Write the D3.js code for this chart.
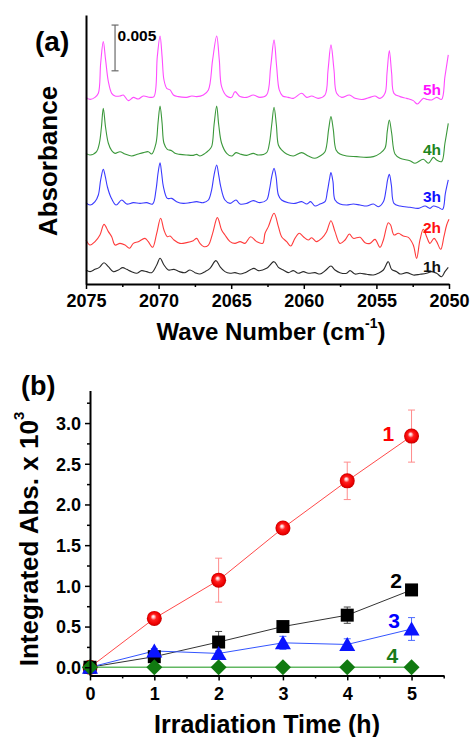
<!DOCTYPE html>
<html>
<head>
<meta charset="utf-8">
<script src="https://cdn.jsdelivr.net/npm/d3@7"></script>
<style>
  html, body { margin: 0; padding: 0; background: #ffffff; }
  svg text { font-family: "Liberation Sans", Arial, Helvetica, sans-serif; font-weight: bold; }
</style>
</head>
<body>
<svg id="chart" width="471" height="737"></svg>
<script>
// ---------- Panel (a): IR spectra, [wavenumber (cm-1), absorbance x 10^-3] ----------
const spectrum1h = [[2075.00,0.00],[2074.72,-0.18],[2074.38,0.07],[2074.08,0.29],[2073.76,0.80],[2073.46,0.36],[2073.12,-0.18],[2072.77,0.00],[2072.47,0.26],[2072.20,0.07],[2071.86,-0.18],[2071.51,-0.36],[2071.17,-0.07],[2070.82,-0.18],[2070.48,-0.29],[2070.13,0.55],[2069.90,1.28],[2069.63,0.55],[2069.33,0.00],[2068.94,0.07],[2068.57,-0.18],[2068.18,-0.29],[2067.84,0.00],[2067.49,-0.29],[2067.15,-0.44],[2066.80,-0.18],[2066.46,0.18],[2066.05,1.02],[2065.77,0.36],[2065.43,-0.18],[2065.08,-0.36],[2064.74,-0.29],[2064.39,-0.44],[2064.05,-0.29],[2063.71,0.00],[2063.43,0.18],[2063.13,-0.07],[2062.56,0.18],[2062.05,0.91],[2061.75,0.29],[2061.41,0.00],[2061.07,-0.29],[2060.72,-0.07],[2060.38,-0.36],[2060.03,-0.18],[2059.69,-0.36],[2059.23,-0.29],[2058.88,-0.44],[2058.47,0.00],[2058.13,0.44],[2057.85,0.00],[2057.51,-0.29],[2057.05,-0.36],[2056.82,-0.07],[2056.47,-0.44],[2056.13,-0.36],[2055.67,-0.47],[2055.21,-0.55],[2054.87,-0.36],[2054.52,0.00],[2054.18,0.91],[2053.95,0.07],[2053.60,-0.18],[2053.37,-0.44],[2052.91,-0.29],[2052.46,-0.55],[2052.00,-0.47],[2051.54,-0.36],[2051.19,-0.18],[2050.85,-0.36],[2050.51,-0.73],[2050.28,-0.18],[2050.05,0.29]];

const spectrum2h = [[2075.00,0.33],[2074.72,-0.22],[2074.38,0.15],[2074.04,0.88],[2073.76,2.04],[2073.46,1.24],[2073.23,0.69],[2073.00,-0.22],[2072.66,-0.04],[2072.31,-0.22],[2072.01,-0.58],[2071.74,-0.04],[2071.40,0.15],[2070.94,0.51],[2070.71,0.15],[2070.41,-0.47],[2070.13,1.06],[2069.86,2.70],[2069.63,1.42],[2069.40,0.69],[2069.21,0.77],[2068.94,0.33],[2068.53,-0.04],[2068.07,0.04],[2067.61,0.26],[2067.38,0.51],[2067.15,-0.04],[2066.87,-0.40],[2066.57,-0.22],[2066.28,1.06],[2065.95,2.77],[2065.66,1.42],[2065.43,0.88],[2065.08,0.15],[2064.74,-0.04],[2064.39,0.15],[2064.05,-0.04],[2063.66,0.69],[2063.25,0.15],[2062.83,-0.04],[2062.67,1.06],[2062.44,1.79],[2062.05,3.25],[2061.75,1.79],[2061.53,0.69],[2061.18,0.15],[2060.90,-0.33],[2060.61,0.51],[2060.31,1.06],[2060.03,0.69],[2059.69,0.33],[2059.46,0.58],[2059.12,0.15],[2058.77,0.51],[2058.43,1.24],[2058.13,2.44],[2057.85,1.24],[2057.51,-0.04],[2057.16,0.33],[2056.86,0.98],[2056.59,0.51],[2056.13,0.62],[2055.78,0.04],[2055.44,-0.04],[2055.10,0.40],[2054.75,-0.47],[2054.52,0.33],[2054.18,2.22],[2054.02,1.97],[2053.79,0.88],[2053.49,1.06],[2053.15,0.77],[2052.80,0.62],[2052.46,-0.22],[2052.23,-1.68],[2052.00,0.33],[2051.77,1.50],[2051.54,0.69],[2051.31,-0.04],[2051.03,0.51],[2050.85,0.15],[2050.57,-0.69],[2050.35,0.69],[2050.16,1.97],[2050.00,2.59]];

const spectrum3h = [[2075.00,0.04],[2074.72,-0.22],[2074.38,0.15],[2074.15,0.88],[2073.99,2.52],[2073.81,3.68],[2073.67,2.88],[2073.53,1.79],[2073.30,0.69],[2072.93,-0.22],[2072.54,0.33],[2072.20,-0.11],[2071.74,0.04],[2071.28,-0.04],[2070.82,0.04],[2070.41,-0.11],[2070.18,1.42],[2070.04,3.25],[2069.90,4.41],[2069.79,3.25],[2069.67,1.79],[2069.40,0.51],[2069.10,0.51],[2068.76,0.15],[2068.30,-0.04],[2067.84,0.04],[2067.38,0.15],[2066.92,0.04],[2066.57,0.33],[2066.35,1.42],[2066.18,3.06],[2066.00,4.16],[2065.86,3.06],[2065.72,1.79],[2065.43,0.33],[2065.08,-0.04],[2064.67,0.33],[2064.39,-0.11],[2063.93,-0.04],[2063.48,0.26],[2063.02,0.04],[2062.56,0.33],[2062.37,1.42],[2062.21,2.88],[2062.05,3.79],[2061.91,2.88],[2061.75,0.88],[2061.53,0.33],[2061.07,0.04],[2060.61,-0.04],[2060.15,0.15],[2059.80,-0.11],[2059.53,0.15],[2059.23,-0.33],[2058.88,-0.11],[2058.54,0.15],[2058.38,1.24],[2058.24,2.52],[2058.13,3.32],[2057.99,2.33],[2057.85,0.33],[2057.51,-0.11],[2057.05,-0.22],[2056.59,-0.11],[2056.13,-0.22],[2055.67,-0.33],[2055.21,-0.11],[2054.87,-0.40],[2054.52,0.15],[2054.34,1.42],[2054.23,2.52],[2054.11,3.14],[2053.97,1.97],[2053.79,-0.04],[2053.37,-0.33],[2052.69,-0.47],[2052.11,-0.58],[2051.65,-0.33],[2051.31,-0.58],[2051.08,-0.33],[2050.74,-0.47],[2050.44,-0.69],[2050.25,1.06],[2050.05,2.52]];

const spectrum4h = [[2075.00,0.18],[2074.72,0.00],[2074.27,0.36],[2074.08,1.28],[2073.94,3.00],[2073.81,5.11],[2073.65,3.00],[2073.46,1.28],[2073.23,0.47],[2073.00,0.18],[2072.66,0.36],[2072.31,0.11],[2071.86,-0.11],[2071.40,0.11],[2071.05,0.26],[2070.71,0.36],[2070.48,0.11],[2070.18,1.28],[2070.04,3.50],[2069.90,5.36],[2069.76,3.50],[2069.63,1.28],[2069.40,0.62],[2069.10,0.47],[2068.87,0.18],[2068.53,0.07],[2068.07,0.00],[2067.61,-0.04],[2067.38,0.07],[2067.15,-0.11],[2066.80,0.18],[2066.57,0.47],[2066.35,0.91],[2066.18,3.30],[2066.00,5.36],[2065.86,3.30],[2065.66,1.28],[2065.31,0.18],[2064.97,-0.11],[2064.67,0.26],[2064.39,0.11],[2063.93,-0.04],[2063.48,0.18],[2063.13,0.00],[2062.56,0.26],[2062.37,1.28],[2062.21,3.30],[2062.05,5.22],[2061.89,3.30],[2061.75,1.09],[2061.53,0.55],[2061.18,0.11],[2060.72,-0.11],[2060.15,0.26],[2059.69,-0.11],[2059.23,-0.36],[2058.88,-0.11],[2058.54,0.36],[2058.29,2.80],[2058.13,4.19],[2057.97,2.80],[2057.78,0.55],[2057.51,0.11],[2057.05,-0.11],[2056.36,-0.18],[2055.67,-0.26],[2055.21,-0.18],[2054.75,0.18],[2054.41,0.73],[2054.25,2.60],[2054.11,3.83],[2053.95,2.40],[2053.72,0.11],[2053.37,-0.36],[2052.69,-0.62],[2052.34,-0.91],[2051.77,-0.47],[2051.42,-0.91],[2051.08,-0.26],[2050.85,-0.55],[2050.51,-0.73],[2050.28,1.28],[2050.05,3.46]];

const spectrum5h = [[2075.00,-0.04],[2074.72,-0.26],[2074.38,-0.04],[2074.15,0.40],[2073.99,3.68],[2073.81,6.05],[2073.65,4.05],[2073.46,1.68],[2073.23,0.40],[2073.00,0.11],[2072.66,0.11],[2072.43,0.22],[2072.08,-0.40],[2071.74,-0.04],[2071.40,-0.22],[2071.05,0.11],[2070.59,-0.04],[2070.32,0.04],[2070.09,4.41],[2069.90,6.67],[2069.76,4.41],[2069.63,1.86],[2069.44,0.95],[2069.21,0.77],[2068.98,0.22],[2068.64,0.04],[2068.07,-0.04],[2067.72,0.11],[2067.38,0.04],[2066.92,0.22],[2066.57,0.77],[2066.28,4.05],[2066.00,6.67],[2065.82,4.05],[2065.66,1.13],[2065.31,0.11],[2064.97,-0.04],[2064.74,0.58],[2064.39,0.04],[2063.93,-0.04],[2063.48,0.22],[2063.02,-0.04],[2062.56,0.22],[2062.28,3.32],[2062.05,6.24],[2061.87,3.32],[2061.69,0.77],[2061.46,0.11],[2061.07,-0.04],[2060.72,-0.15],[2060.15,0.40],[2059.80,-0.04],[2059.46,0.11],[2059.00,-0.15],[2058.54,0.22],[2058.33,2.95],[2058.13,5.69],[2057.92,2.95],[2057.74,0.40],[2057.39,-0.04],[2056.86,0.22],[2056.47,-0.15],[2055.90,-0.26],[2055.44,-0.04],[2055.10,0.11],[2054.75,-0.15],[2054.41,0.40],[2054.27,2.59],[2054.11,5.07],[2053.95,2.59],[2053.79,0.40],[2053.37,0.04],[2052.91,-0.15],[2052.46,-0.40],[2052.18,-0.77],[2051.77,-0.15],[2051.54,-0.26],[2051.19,-0.33],[2050.85,-0.04],[2050.51,-0.26],[2050.28,2.22],[2050.05,4.60]];

const spectra = [spectrum1h, spectrum2h, spectrum3h, spectrum4h, spectrum5h];
const spectrumLabels = ["1h", "2h", "3h", "4h", "5h"];
const stackOffsets = [1.53, 4.48, 8.85, 14.1, 20.44];          // vertical stacking, x 10^-3
const wavenumberTicks = [2075, 2070, 2065, 2060, 2055, 2050];
const wavenumberMinorTicks = [2072.5, 2067.5, 2062.5, 2057.5, 2052.5];
const scaleBarValue = 5;                                         // 0.005 absorbance

// ---------- Panel (b): integrated absorbance vs irradiation time ----------
const irradiationHours = [0, 1, 2, 3, 4, 5];
const series1 = [0, 0.60, 1.07, 1.71, 2.29, 2.84];
const series1Err = [0, 0.03, 0.27, 0.04, 0.23, 0.32];
const series2 = [0, 0.13, 0.31, 0.50, 0.64, 0.95];
const series2Err = [0, 0.02, 0.13, 0.03, 0.10, 0.03];
const series3 = [0, 0.20, 0.17, 0.30, 0.28, 0.47];
const series3Err = [0, 0.03, 0.03, 0.08, 0.07, 0.14];
const series4 = [0, 0, 0, 0, 0, 0];
const series4Err = [0, 0, 0, 0, 0, 0];
const seriesNames = ["1", "2", "3", "4"];
const hourTicks = [0, 1, 2, 3, 4, 5];
const hourMinorTicks = [0.5, 1.5, 2.5, 3.5, 4.5, 5.5];
const absTicks = [0, 0.5, 1.0, 1.5, 2.0, 2.5, 3.0];
const absMinorTicks = [0.25, 0.75, 1.25, 1.75, 2.25, 2.75, 3.25];

// ---------- styles ----------
const traceColors = ["#2a2a2a", "#ff3b3b", "#3a3aff", "#3b983b", "#ff4cff"];
const traceLabelColors = ["#111111", "#ff1010", "#1010ff", "#1d861d", "#ff10ff"];
const seriesColors = {
  line:  ["#ff4a4a", "#333333", "#3355ff", "#62b862"],
  err:   ["#ff8c8c", "#444444", "#4d6bff", "#62b862"],
  mark:  ["#ff0000", "#000000", "#0a14ff", "#117a11"],
  label: ["#ff0000", "#000000", "#0000ff", "#1a7a1a"]
};

const svg = d3.select("#chart");
const defs = svg.append("defs");
const ball = defs.append("radialGradient").attr("id", "ballFill")
  .attr("cx", "50%").attr("cy", "50%").attr("r", "50%").attr("fx", "42%").attr("fy", "36%");
[["0%", "#ffffff"], ["16%", "#ffc8c8"], ["40%", "#ff2020"], ["80%", "#f00000"], ["100%", "#c20000"]]
  .forEach(([o, c]) => ball.append("stop").attr("offset", o).attr("stop-color", c));

function styleAxis(g, width) {
  g.select(".domain").attr("stroke", "#000").attr("stroke-width", width);
  g.selectAll(".tick line").attr("stroke", "#000").attr("stroke-width", 1.5);
  g.selectAll(".tick text").attr("fill", "#000");
}

// ================= Panel (a) =================
const xA = d3.scaleLinear().domain([2075, 2050]).range([86, 449]);
const yA = d3.scaleLinear().domain([0, 29.4]).range([284, 15]);

const gA = svg.append("g");

spectra.forEach((spec, i) => {
  const line = d3.line()
    .x(d => xA(d[0]))
    .y(d => yA(d[1] + stackOffsets[i]))
    .curve(d3.curveCatmullRom.alpha(0.5));
  gA.append("path").datum(spec)
    .attr("d", line)
    .attr("fill", "none")
    .attr("stroke", traceColors[i])
    .attr("stroke-width", 1.1)
    .attr("stroke-linejoin", "round");
});

// trace labels near the right end
const labelLevels = [1.3, 5.6, 9.0, 14.1, 20.7];
spectrumLabels.forEach((t, i) => {
  gA.append("text")
    .attr("x", xA(2050.55)).attr("y", yA(labelLevels[i]))
    .attr("text-anchor", "end")
    .attr("font-size", 15.5)
    .attr("fill", traceLabelColors[i])
    .text(t);
});

// scale bar
const sbX = xA(2073.0), sbTop = yA(23.3 + scaleBarValue), sbBot = yA(23.3);
const sb = gA.append("g").attr("stroke", "#6a6a6a").attr("stroke-width", 1.2);
sb.append("line").attr("x1", sbX).attr("x2", sbX).attr("y1", sbTop).attr("y2", sbBot);
sb.append("line").attr("x1", sbX - 3.5).attr("x2", sbX + 3.5).attr("y1", sbTop).attr("y2", sbTop);
sb.append("line").attr("x1", sbX - 3.5).attr("x2", sbX + 3.5).attr("y1", sbBot).attr("y2", sbBot);
gA.append("text").attr("x", sbX + 2.5).attr("y", 40.5).attr("font-size", 15.5).attr("fill", "#000")
  .text((scaleBarValue / 1000).toFixed(3));

// axes
const axA = gA.append("g").attr("transform", "translate(0,284)")
  .call(d3.axisBottom(xA).tickValues(wavenumberTicks).tickSize(5).tickSizeOuter(0).tickFormat(d3.format("d")));
styleAxis(axA, 2);
axA.selectAll(".tick text").attr("font-size", 18).attr("y", 23).attr("dy", null);
const axAm = gA.append("g").attr("transform", "translate(0,284)")
  .call(d3.axisBottom(xA).tickValues(wavenumberMinorTicks).tickSize(3).tickFormat(""));
axAm.select(".domain").remove();
axAm.selectAll(".tick line").attr("stroke", "#000").attr("stroke-width", 1.5);

const ayA = gA.append("g").attr("transform", "translate(86,0)")
  .call(d3.axisLeft(yA).tickValues([]).tickSizeOuter(0));
styleAxis(ayA, 2);

gA.append("text").attr("x", 35).attr("y", 51).attr("font-size", 28).attr("fill", "#000").text("(a)");
gA.append("text").attr("transform", "translate(57,161) rotate(-90)")
  .attr("text-anchor", "middle").attr("font-size", 26).attr("fill", "#000").text("Absorbance");

const xtA = gA.append("text").attr("x", 271).attr("y", 340).attr("text-anchor", "middle")
  .attr("font-size", 24).attr("fill", "#000");
xtA.append("tspan").text("Wave Number (cm");
xtA.append("tspan").attr("font-size", 14).attr("dy", -12).text("-1");
xtA.append("tspan").attr("dy", 12).text(")");

// ================= Panel (b) =================
const xB = d3.scaleLinear().domain([0, 5.5]).range([90, 443.7]);
const yB = d3.scaleLinear().domain([-0.1, 3.4]).range([675.4, 390.5]);
const gB = svg.append("g");

const seriesValues = [series1, series2, series3, series4];
const seriesErrors = [series1Err, series2Err, series3Err, series4Err];

// connecting lines
seriesValues.forEach((vals, s) => {
  const line = d3.line().x((d, i) => xB(irradiationHours[i])).y(d => yB(d));
  gB.append("path").datum(vals).attr("d", line)
    .attr("fill", "none").attr("stroke", seriesColors.line[s]).attr("stroke-width", s === 3 ? 1.5 : 1);
});

// error bars
seriesValues.forEach((vals, s) => {
  const g = gB.append("g").attr("stroke", seriesColors.err[s]).attr("stroke-width", 1);
  vals.forEach((v, i) => {
    const e = seriesErrors[s][i];
    if (!e) return;
    const x = xB(irradiationHours[i]), y1 = yB(v + e), y2 = yB(v - e);
    g.append("line").attr("x1", x).attr("x2", x).attr("y1", y1).attr("y2", y2);
    g.append("line").attr("x1", x - 3.5).attr("x2", x + 3.5).attr("y1", y1).attr("y2", y1);
    g.append("line").attr("x1", x - 3.5).attr("x2", x + 3.5).attr("y1", y2).attr("y2", y2);
  });
});

// markers
const markerPath = [
  null,
  "M-6.5,-6.5H6.5V6.5H-6.5Z",
  "M0,-7.5L8,6.5H-8Z",
  "M0,-8L8,0L0,8L-8,0Z"
];
seriesValues.forEach((vals, s) => {
  const g = gB.append("g");
  vals.forEach((v, i) => {
    const x = xB(irradiationHours[i]), y = yB(v);
    if (s === 0) {
      g.append("circle").attr("cx", x).attr("cy", y).attr("r", 7.5).attr("fill", "url(#ballFill)");
    } else {
      g.append("path").attr("d", markerPath[s]).attr("transform", `translate(${x},${y})`)
        .attr("fill", seriesColors.mark[s]);
    }
  });
});

// series labels
const labelAnchors = [[4.64, 2.78], [4.76, 0.975], [4.73, 0.48], [4.70, 0.05]];
seriesNames.forEach((t, s) => {
  gB.append("text").attr("x", xB(labelAnchors[s][0])).attr("y", yB(labelAnchors[s][1]))
    .attr("text-anchor", "middle").attr("font-size", 21).attr("fill", seriesColors.label[s]).text(t);
});

// axes
const axB = gB.append("g").attr("transform", `translate(0,${yB(-0.1)})`)
  .call(d3.axisBottom(xB).tickValues(hourTicks).tickSize(5).tickSizeOuter(0).tickFormat(d3.format("d")));
styleAxis(axB, 2);
axB.selectAll(".tick text").attr("font-size", 18).attr("y", 25).attr("dy", null);
const axBm = gB.append("g").attr("transform", `translate(0,${yB(-0.1)})`)
  .call(d3.axisBottom(xB).tickValues(hourMinorTicks).tickSize(3).tickFormat(""));
axBm.select(".domain").remove();
axBm.selectAll(".tick line").attr("stroke", "#000").attr("stroke-width", 1.5);

const ayB = gB.append("g").attr("transform", `translate(${xB(0)},0)`)
  .call(d3.axisLeft(yB).tickValues(absTicks).tickSize(5).tickSizeOuter(0).tickFormat(d3.format(".1f")));
styleAxis(ayB, 2);
ayB.selectAll(".tick text").attr("font-size", 18).attr("x", -9).attr("dy", "0.35em");
const ayBm = gB.append("g").attr("transform", `translate(${xB(0)},0)`)
  .call(d3.axisLeft(yB).tickValues(absMinorTicks).tickSize(3).tickFormat(""));
ayBm.select(".domain").remove();
ayBm.selectAll(".tick line").attr("stroke", "#000").attr("stroke-width", 1.5);

gB.append("text").attr("x", 21).attr("y", 395).attr("font-size", 27).attr("fill", "#000").text("(b)");

const ytB = gB.append("text").attr("transform", "translate(38,539) rotate(-90)")
  .attr("text-anchor", "middle").attr("font-size", 26).attr("fill", "#000");
ytB.append("tspan").text("Integrated Abs. x 10");
ytB.append("tspan").attr("font-size", 15).attr("dy", -14).text("3");

gB.append("text").attr("x", 267).attr("y", 733).attr("text-anchor", "middle")
  .attr("font-size", 25).attr("fill", "#000").text("Irradiation Time (h)");
</script>
</body>
</html>
